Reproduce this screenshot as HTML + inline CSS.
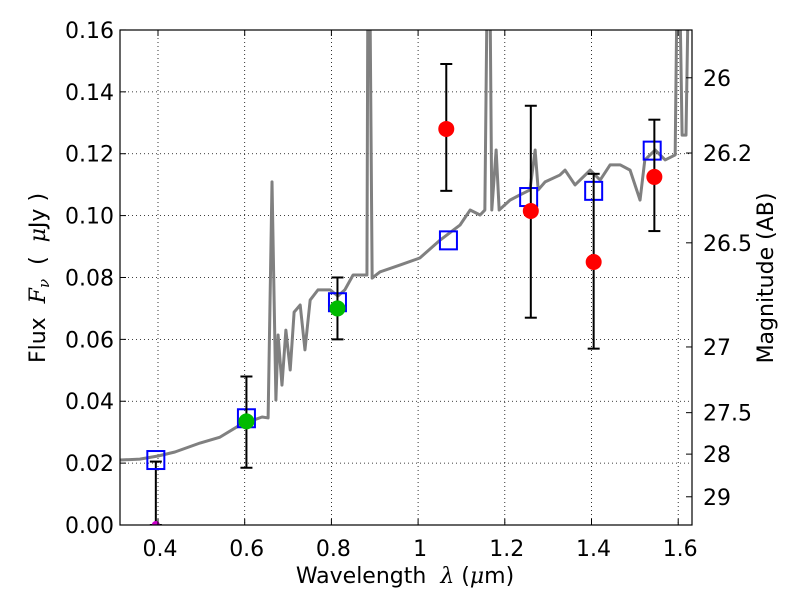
<!DOCTYPE html>
<html><head><meta charset="utf-8"><style>
body{margin:0;background:#fff;}
svg{font-family:"DejaVu Sans","Liberation Sans",sans-serif;}
</style></head><body>
<svg id="c" width="800" height="600" xmlns="http://www.w3.org/2000/svg"></svg>
<script>
const specLam=[0.312,0.358,0.400,0.439,0.497,0.543,0.589,0.640,0.654,0.663,0.672,0.677,0.686,0.695,0.705,0.714,0.728,0.739,0.751,0.769,0.797,0.815,0.831,0.850,0.882,0.884,0.889,0.894,0.912,0.958,1.004,1.051,1.097,1.120,1.143,1.154,1.159,1.166,1.170,1.180,1.187,1.212,1.235,1.258,1.270,1.277,1.293,1.327,1.339,1.362,1.397,1.420,1.443,1.466,1.489,1.512,1.523,1.547,1.570,1.593,1.597,1.604,1.609,1.618,1.623,1.632];
const specFlux=[0.021,0.0213,0.0223,0.0236,0.0265,0.0284,0.0323,0.0349,0.0346,0.1109,0.0404,0.0614,0.0452,0.063,0.0501,0.0688,0.0711,0.0566,0.0727,0.076,0.076,0.074,0.076,0.0808,0.0808,0.17,0.17,0.0798,0.0818,0.084,0.0863,0.0921,0.097,0.1018,0.1002,0.1018,0.17,0.17,0.1018,0.1212,0.1018,0.105,0.1067,0.1083,0.1212,0.1083,0.1109,0.1131,0.1147,0.1099,0.1147,0.1115,0.1164,0.1164,0.1147,0.105,0.118,0.1212,0.118,0.1196,0.17,0.17,0.126,0.126,0.17,0.17];
const modelLam=[0.395,0.604,0.814,1.07,1.255,1.405,1.54];
const modelFlux=[0.021,0.0345,0.072,0.092,0.106,0.108,0.121];
const greenLam=[0.604,0.814];
const greenFlux=[0.0335,0.070];
const greenLo=[0.0185,0.060];
const greenHi=[0.048,0.080];
const redLam=[1.065,1.26,1.405,1.545];
const redFlux=[0.128,0.1015,0.085,0.1125];
const redLo=[0.108,0.067,0.057,0.095];
const redHi=[0.149,0.1355,0.1135,0.131];
const ulLam=[0.395];
const ulHi=[0.0205];
const xTicks=[0.4,0.6,0.8,1.0,1.2,1.4,1.6];
const xTickLabels=["0.4","0.6","0.8","1","1.2","1.4","1.6"];
const yTicks=[0,0.02,0.04,0.06,0.08,0.1,0.12,0.14,0.16];
const magTicks=[26,26.2,26.5,27,27.5,28,29];
const magLabels=["26","26.2","26.5","27","27.5","28","29"];

const L=120,R=692,T=30,B=525;
const X=v=>158+(v-0.4)*433.5;
const Y=v=>B-v*3094;
const NS="http://www.w3.org/2000/svg";
const svg=document.getElementById('c');
function mk(tag,at,parent){const e=document.createElementNS(NS,tag);for(const k in at)e.setAttribute(k,at[k]);(parent||svg).appendChild(e);return e;}
const defs=mk('defs',{});
const cp=mk('clipPath',{id:'clip'},defs);mk('rect',{x:L,y:T,width:R-L,height:B-T},cp);
xTicks.forEach(v=>{const g=mk('line',{x1:X(v),x2:X(v),y1:T,y2:B,stroke:'#000','stroke-width':0.8,'stroke-dasharray':'1,3'});
});
yTicks.forEach(v=>{const g=mk('line',{x1:L,x2:R,y1:Y(v),y2:Y(v),stroke:'#000','stroke-width':0.8,'stroke-dasharray':'1,3'});
});
const plot=mk('g',{'clip-path':'url(#clip)'});

const sp=mk('polyline',{points:specLam.map((l,i)=>X(l)+','+Y(specFlux[i])).join(' '),fill:'none',stroke:'#808080','stroke-width':3,'stroke-linejoin':'round'},plot);

function ebar(x,lo,hi,name){const g=mk('g',{stroke:'#000','stroke-width':2},plot);

mk('line',{x1:X(x),x2:X(x),y1:Y(lo),y2:Y(hi)},g);
mk('line',{x1:X(x)-6,x2:X(x)+6,y1:Y(hi),y2:Y(hi)},g);
mk('line',{x1:X(x)-6,x2:X(x)+6,y1:Y(lo),y2:Y(lo)},g);}
ulLam.forEach((l,i)=>ebar(l,0,ulHi[i],'upper-limit-errorbar'));
modelLam.forEach((l,i)=>{const r=mk('rect',{x:X(l)-8.5,y:Y(modelFlux[i])-9,width:17,height:18,fill:'none',stroke:'#0000ff','stroke-width':2},plot);
});
greenLam.forEach((l,i)=>{ebar(l,greenLo[i],greenHi[i],'detection-errorbar');
const c=mk('circle',{cx:X(l),cy:Y(greenFlux[i]),r:8,fill:'#00bb00'},plot);
});
redLam.forEach((l,i)=>{ebar(l,redLo[i],redHi[i],'red-errorbar');
const c=mk('circle',{cx:X(l),cy:Y(redFlux[i]),r:8,fill:'#ff0000'},plot);
});
const mp=mk('circle',{cx:X(0.395),cy:Y(0),r:4,fill:'#cc00cc'},plot);

const fr=mk('rect',{x:L,y:T,width:R-L,height:B-T,fill:'none',stroke:'#000','stroke-width':1.2});

xTicks.forEach((v,i)=>{mk('line',{x1:X(v),x2:X(v),y1:B,y2:B-6,stroke:'#000'});mk('line',{x1:X(v),x2:X(v),y1:T,y2:T+6,stroke:'#000'});
const t=mk('text',{x:X(v)+2,y:B+31,'text-anchor':'middle','font-size':22});t.textContent=xTickLabels[i];
});
yTicks.forEach(v=>{mk('line',{x1:L,x2:L+6,y1:Y(v),y2:Y(v),stroke:'#000'});
const t=mk('text',{x:L-6,y:Y(v)+8,'text-anchor':'end','font-size':22});t.textContent=v.toFixed(2);
});
magTicks.forEach((m,i)=>{const f=Math.pow(10,(23.9-m)/2.5);const y=Y(f);
mk('line',{x1:R,x2:R-6,y1:y,y2:y,stroke:'#000'});
const t=mk('text',{x:R+11,y:y+8,'font-size':22});t.textContent=magLabels[i];
});
</script>
<svg width="800" height="600" style="position:absolute;left:0;top:0">
<text x="405" y="583" text-anchor="middle" font-size="22" font-family="DejaVu Sans,sans-serif" xml:space="preserve">Wavelength  <tspan font-style="italic" font-family="DejaVu Serif,serif">λ</tspan> (<tspan font-style="italic" font-family="DejaVu Serif,serif">μ</tspan>m)</text>
<text transform="translate(45,278) rotate(-90)" text-anchor="middle" font-size="22" font-family="DejaVu Sans,sans-serif" xml:space="preserve">Flux  <tspan font-style="italic" font-family="DejaVu Serif,serif">F<tspan font-size="15" dy="4">ν</tspan></tspan><tspan dy="-4">  (  </tspan><tspan font-style="italic" font-family="DejaVu Serif,serif">μ</tspan>Jy )</text>
<text transform="translate(773,278) rotate(-90)" text-anchor="middle" font-size="22" font-family="DejaVu Sans,sans-serif">Magnitude (AB)</text>
</svg>
</body></html>
